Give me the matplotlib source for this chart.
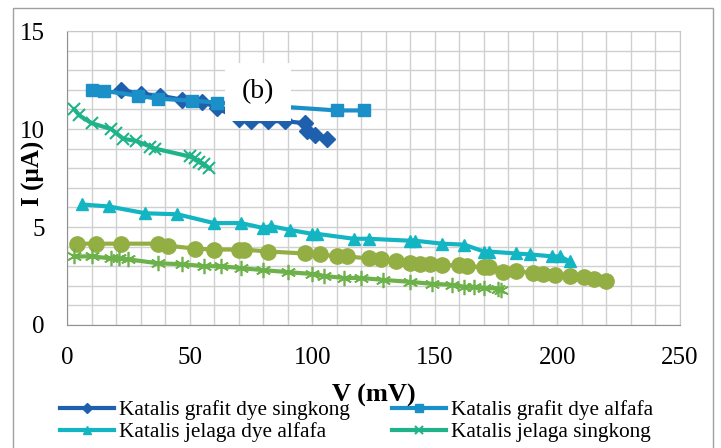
import matplotlib
matplotlib.use("Agg")
import matplotlib.pyplot as plt
from matplotlib.ticker import MultipleLocator
from matplotlib.patches import Rectangle

plt.rcParams['font.family'] = ['Liberation Serif', 'DejaVu Serif']

# data
x_grafit_singkong = [22, 30, 38, 47, 55, 61, 70, 75, 82, 89, 97, 98, 101, 106]
y_grafit_singkong = [12.0, 11.8, 11.7, 11.5, 11.4, 11.1, 10.5, 10.4, 10.4, 10.4, 10.3, 9.9, 9.7, 9.5]

x_grafit_alfafa = [10, 15, 29, 37, 51, 61, 75, 110, 121]
y_grafit_alfafa = [12.0, 11.95, 11.7, 11.55, 11.45, 11.35, 11.25, 10.95, 10.95]

x_jelaga_alfafa = [6, 17, 32, 45, 60, 71, 80, 83, 91, 100, 102, 117, 123, 140, 142, 153, 162,
                   170, 172, 183, 189, 198, 201, 205]
y_jelaga_alfafa = [6.15, 6.05, 5.7, 5.65, 5.2, 5.2, 4.95, 5.05, 4.85, 4.65, 4.65, 4.4, 4.4, 4.3,
                   4.3, 4.15, 4.1, 3.75, 3.75, 3.65, 3.6, 3.5, 3.5, 3.25]

x_jelaga_singkong = [3, 5, 10, 18, 20, 23, 28, 34, 36, 50, 52, 54, 56, 58]
y_jelaga_singkong = [11.0, 10.7, 10.3, 10.0, 9.8, 9.5, 9.4, 9.1, 9.0, 8.6, 8.5, 8.3, 8.2, 8.0]

x_bulat = [4, 12, 22, 37, 41, 52, 60, 70, 72, 82, 97, 103, 110, 114, 123, 128, 134, 140, 144,
           148, 153, 160, 163, 170, 172, 178, 183, 190, 194, 199, 205, 211, 215, 220]
y_bulat = [4.15, 4.15, 4.15, 4.15, 4.05, 3.9, 3.85, 3.85, 3.85, 3.75, 3.65, 3.6, 3.5, 3.5, 3.4,
           3.35, 3.25, 3.15, 3.1, 3.1, 3.05, 3.05, 3.0, 2.95, 2.95, 2.7, 2.75, 2.65, 2.6, 2.55,
           2.5, 2.45, 2.35, 2.25]

x_bintang = [3, 10, 18, 21, 25, 37, 47, 56, 63, 71, 80, 90, 100, 105, 113, 120, 129, 140, 149,
             157, 162, 166, 170, 176, 177]
y_bintang = [3.5, 3.5, 3.4, 3.4, 3.35, 3.15, 3.1, 3.0, 3.0, 2.9, 2.8, 2.7, 2.6, 2.5, 2.4, 2.4,
             2.3, 2.2, 2.1, 2.05, 1.95, 1.95, 1.9, 1.85, 1.8]

fig = plt.figure(figsize=(7.21, 4.48), dpi=100)
ax = fig.add_axes([0.093, 0.2746, 0.850, 0.656])

# outer border of the chart
fig.patches.append(Rectangle((13 / 721, -0.01), 700 / 721, 1 - 8 / 448 + 0.01,
                             transform=fig.transFigure, fill=False,
                             edgecolor='#a0a0a0', lw=1))

ax.plot(x_bulat, y_bulat, color='#93ae42', lw=3, marker='o', ms=11, zorder=3)
ax.plot(x_bintang, y_bintang, color='#6cb14a', lw=3, marker=(6, 2, 0), ms=11, mew=1.2,
        zorder=3)
ax.plot(x_jelaga_alfafa, y_jelaga_alfafa, color='#14b5c3', lw=3, marker='^', ms=9,
        label='Katalis jelaga dye alfafa', zorder=4)
ax.plot(x_jelaga_singkong, y_jelaga_singkong, color='#20b38a', lw=3, marker='x', ms=9,
        mew=1.5, label='Katalis jelaga singkong', zorder=4)
ax.plot(x_grafit_singkong, y_grafit_singkong, color='#1f60ae', lw=3, marker='D', ms=8,
        label='Katalis grafit dye singkong', zorder=5)
ax.plot(x_grafit_alfafa, y_grafit_alfafa, color='#1b8fc8', lw=3, marker='s', ms=9,
        label='Katalis grafit dye alfafa', zorder=5)

ax.text(78, 11.9, '(b)', fontsize=20, ha='center', va='center', zorder=10,
        bbox=dict(facecolor='white', edgecolor='none', pad=12))

ax.set_xlim(0, 250)
ax.set_ylim(0, 15)
ax.xaxis.set_major_locator(MultipleLocator(50))
ax.yaxis.set_major_locator(MultipleLocator(5))
ax.xaxis.set_minor_locator(MultipleLocator(10))
ax.yaxis.set_minor_locator(MultipleLocator(1))
ax.grid(which='both', color='#d0d0d0', lw=1)
ax.set_axisbelow(True)
ax.tick_params(which='both', length=0, labelsize=18)
ax.tick_params(axis='y', pad=16)
ax.tick_params(axis='x', pad=16)
for s in ax.spines.values():
    s.set_color('#c8c8c8')
ax.spines['left'].set_color('#909090')
ax.spines['bottom'].set_color('#909090')

ax.set_ylabel('I (µA)', fontsize=18, fontweight='bold')
ax.yaxis.set_label_coords(-0.036, 0.517)
fig.text(0.519, 0.118, 'V (mV)', fontsize=19, fontweight='bold', ha='center', va='center')

h, l = ax.get_legend_handles_labels()
order = [2, 0, 3, 1]
leg = fig.legend([h[i] for i in order], [l[i] for i in order], ncol=2, frameon=False,
                 loc='upper left', bbox_to_anchor=(0.083, 0.107), fontsize=15.3,
                 handlelength=2.55, columnspacing=1.95, handletextpad=0.25,
                 labelspacing=0.1, markerscale=0.6, borderaxespad=0, borderpad=0)

fig.savefig('out.png', dpi=100)
